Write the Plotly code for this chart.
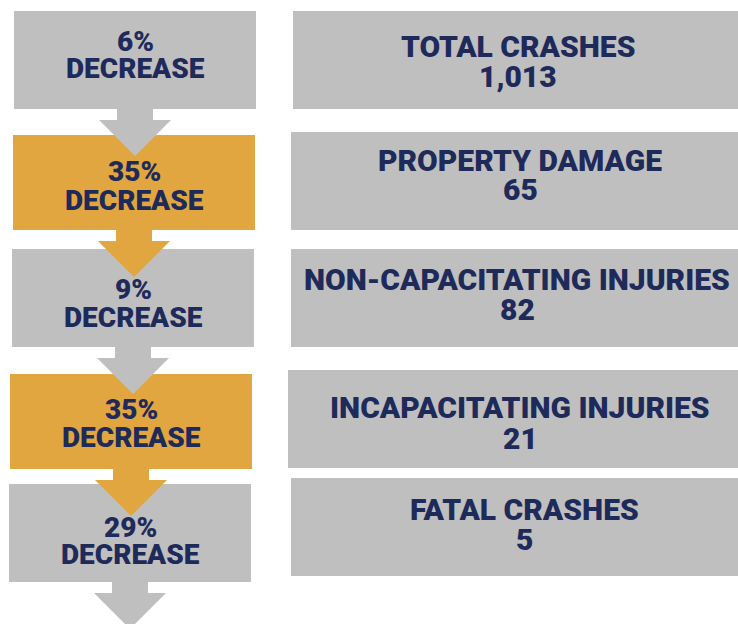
import plotly.graph_objects as go

# ---- data ----
pct_decrease = [6, 35, 9, 35, 29]
categories = ["TOTAL CRASHES", "PROPERTY DAMAGE", "NON-CAPACITATING INJURIES",
              "INCAPACITATING INJURIES", "FATAL CRASHES"]
counts = [1013, 65, 82, 21, 5]

# ---- styles ----
GRAY = "#BFBFBF"
ORANGE = "#E1A63F"
NAVY = "#1E2A5A"
left_colors = [GRAY, ORANGE, GRAY, ORANGE, GRAY]
FONT = "Roboto"

# ---- layout geometry (pixels, y downward) ----
W, H = 738, 624
l_top = [11, 135, 249, 374, 484]
l_bot = [109, 230, 347, 469, 582]
l_x0 = [14, 13, 12, 10, 9]
l_x1 = [256, 255, 254, 252, 251]
r_top = [11, 132, 249, 370, 478]
r_bot = [109, 230, 347, 468, 576]
r_x0 = [293, 291, 291, 288, 291]
r_x1 = [738, 738, 738, 738, 738]
l_line_y = [(41.5, 68), (171, 200), (289.5, 317.5), (409.5, 437.5), (527.5, 554)]
r_line_y = [(46, 76.5), (160.5, 189), (279, 309), (407.5, 438.5), (509, 539)]
r_text_x = [518, 520, 517, 520, 524]
STEM_W, STEM_H, HEAD_W, HEAD_H = 36, 11, 72, 36

shapes = []
annotations = []
for i in range(len(categories)):
    shapes.append(dict(type="rect", xref="x", yref="y", x0=l_x0[i], x1=l_x1[i],
                       y0=l_top[i], y1=l_bot[i], fillcolor=left_colors[i],
                       line=dict(width=0), layer="below"))
    shapes.append(dict(type="rect", xref="x", yref="y", x0=r_x0[i], x1=r_x1[i],
                       y0=r_top[i], y1=r_bot[i], fillcolor=GRAY,
                       line=dict(width=0), layer="below"))

for i in range(len(categories)):
    cx = (l_x0[i] + l_x1[i]) / 2
    b = l_bot[i]
    path = (f"M {cx - STEM_W/2} {b} L {cx + STEM_W/2} {b} L {cx + STEM_W/2} {b + STEM_H} "
            f"L {cx + HEAD_W/2} {b + STEM_H} L {cx} {b + STEM_H + HEAD_H} "
            f"L {cx - HEAD_W/2} {b + STEM_H} L {cx - STEM_W/2} {b + STEM_H} Z")
    shapes.append(dict(type="path", xref="x", yref="y", path=path,
                       fillcolor=left_colors[i], line=dict(width=0), layer="below"))

for i in range(len(categories)):
    cx = (l_x0[i] + l_x1[i]) / 2
    for txt, yy in zip([f"{pct_decrease[i]}%", "DECREASE"], l_line_y[i]):
        annotations.append(dict(x=cx, y=yy, xref="x", yref="y", text=txt,
                                showarrow=False, xanchor="center", yanchor="middle",
                                font=dict(family=FONT, size=28, color=NAVY, weight=900)))
    for txt, yy in zip([categories[i], f"{counts[i]:,}"], r_line_y[i]):
        annotations.append(dict(x=r_text_x[i], y=yy, xref="x", yref="y", text=txt,
                                showarrow=False, xanchor="center", yanchor="middle",
                                font=dict(family=FONT, size=30, color=NAVY, weight=900)))

fig = go.Figure()
fig.update_layout(
    width=W, height=H,
    margin=dict(l=0, r=0, t=0, b=0),
    paper_bgcolor="white", plot_bgcolor="white",
    xaxis=dict(range=[0, W], visible=False, fixedrange=True),
    yaxis=dict(range=[H, 0], visible=False, fixedrange=True),
    shapes=shapes, annotations=annotations, showlegend=False,
)
fig.write_html("out.html", config={"displayModeBar": False},
               post_script="document.body.style.margin='0';document.body.style.overflow='hidden';")
